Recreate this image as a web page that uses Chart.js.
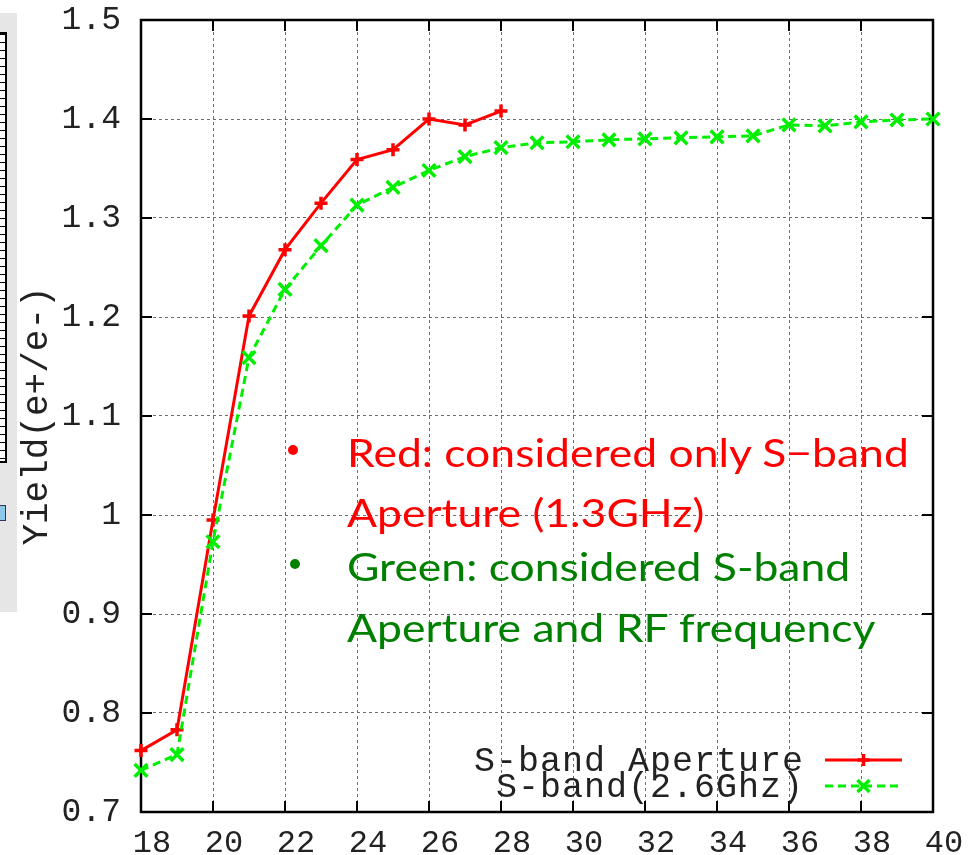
<!DOCTYPE html>
<html>
<head>
<meta charset="utf-8">
<script src="https://cdn.jsdelivr.net/npm/chart.js@4/dist/chart.umd.min.js"></script>
<style>
  html, body { margin: 0; padding: 0; background: #fff; }
  #wrap { position: relative; width: 980px; height: 855px; overflow: hidden; }
  #side { position: absolute; left: 0; top: 13px; width: 17px; height: 599px; background: #e6e6e6; }
  #sidePanel { position: absolute; left: 0; top: 32px; width: 5px; height: 427px;
    background: repeating-linear-gradient(to bottom, #000 0px, #000 1px, #fff 1px, #fff 8px);
    border-right: 2px solid #000; border-top: 2px solid #000; border-bottom: 2px solid #000; }
  #sideBox { position: absolute; left: 0; top: 505px; width: 5px; height: 14px; background: #8cc8e8; border: 1px solid #335; border-left: none; }
  .note { position: absolute; left: 347px; font-family: Lato, "Open Sans", sans-serif; font-size: 39px; line-height: 58px; white-space: nowrap; transform: scaleX(1.14); transform-origin: 0 50%; }
  .red { color: #ff0000; }
  .green { color: #008000; }
  .dot { position: absolute; width: 10px; height: 10px; border-radius: 50%; }
</style>
</head>
<body>
<div id="wrap">
  <div id="side"></div>
  <div id="sidePanel"></div>
  <div id="sideBox"></div>
  <canvas id="c" width="980" height="855"></canvas>
  <div class="dot" style="left:288px; top:445px; background:#ff0000;"></div>
  <div class="note red" style="top:423px;">Red: considered only S−band</div>
  <div class="note red" style="top:483px;">Aperture (1.3GHz)</div>
  <div class="dot" style="left:290px; top:559px; background:#008000;"></div>
  <div class="note green" style="top:537px;">Green: considered S-band</div>
  <div class="note green" style="top:598px;">Aperture and RF frequency</div>
</div>
<script>
// ---- data ----
const redLabel = 'S-band Aperture';
const greenLabel = 'S-band(2.6Ghz)';
const redX = [18, 19, 20, 21, 22, 23, 24, 25, 26, 27, 28];
const redY = [0.762, 0.783, 0.995, 1.201, 1.268, 1.315, 1.359, 1.369, 1.400, 1.394, 1.408];
const greenX = [18, 19, 20, 21, 22, 23, 24, 25, 26, 27, 28, 29, 30, 31, 32, 33, 34, 35, 36, 37, 38, 39, 40];
const greenY = [0.742, 0.758, 0.973, 1.159, 1.228, 1.272, 1.313, 1.331, 1.348, 1.362, 1.371, 1.376, 1.377, 1.379, 1.380, 1.381, 1.382, 1.383, 1.394, 1.393, 1.397, 1.399, 1.400];
const xTickValues = [18, 20, 22, 24, 26, 28, 30, 32, 34, 36, 38, 40];
const xTickLabels = ['18', '20', '22', '24', '26', '28', '30', '32', '34', '36', '38', '40'];
const yTickLabels = ['0.7', '0.8', '0.9', '1', '1.1', '1.2', '1.3', '1.4', '1.5'];
const yTitle = 'Yield(e+/e-)';

const RED = '#ff0000';
const GREEN = '#00ee00';
const MONO = '"Liberation Mono", "DejaVu Sans Mono", monospace';

const redData = redX.map((x, i) => ({ x: x, y: redY[i] }));
const greenData = greenX.map((x, i) => ({ x: x, y: greenY[i] }));

// frame + inward tick marks (gnuplot style box)
const framePlugin = {
  id: 'frame',
  beforeDatasetsDraw(chart) {
    const { ctx, chartArea: a, scales: { x, y } } = chart;
    ctx.save();
    ctx.strokeStyle = '#000';
    ctx.lineWidth = 2.5;
    ctx.setLineDash([]);
    ctx.strokeRect(a.left, a.top, a.right - a.left, a.bottom - a.top);
    const L = 11;
    ctx.lineWidth = 2;
    ctx.beginPath();
    x.ticks.forEach(t => {
      const px = x.getPixelForValue(t.value);
      ctx.moveTo(px, a.bottom); ctx.lineTo(px, a.bottom - L);
      ctx.moveTo(px, a.top); ctx.lineTo(px, a.top + L);
    });
    y.ticks.forEach(t => {
      const py = y.getPixelForValue(t.value);
      ctx.moveTo(a.left, py); ctx.lineTo(a.left + L, py);
      ctx.moveTo(a.right, py); ctx.lineTo(a.right - L, py);
    });
    ctx.stroke();
    ctx.restore();
  }
};

// gnuplot-like key, bottom right inside the plot
const keyPlugin = {
  id: 'key',
  afterDraw(chart) {
    const { ctx } = chart;
    const rows = chart.data.datasets.map(ds => ds);
    const textRight = 804;
    const x1 = 825, x2 = 902, xm = (x1 + x2) / 2;
    const ys = [760, 786];
    ctx.save();
    ctx.font = '35px ' + MONO;
    ctx.textAlign = 'right';
    ctx.textBaseline = 'middle';
    ctx.fillStyle = '#222';
    try { ctx.letterSpacing = '1px'; } catch (e) {}
    rows.forEach((ds, i) => {
      const yy = ys[i];
      ctx.fillStyle = '#222';
      ctx.fillText(ds.label, textRight, yy + 2);
      ctx.strokeStyle = ds.borderColor;
      ctx.lineWidth = 3;
      ctx.setLineDash(ds.borderDash || []);
      ctx.beginPath(); ctx.moveTo(x1, yy); ctx.lineTo(x2, yy); ctx.stroke();
      ctx.setLineDash([]);
      ctx.lineWidth = 3.5;
      ctx.beginPath();
      if (ds.pointStyle === 'cross') {
        ctx.moveTo(xm - 6, yy); ctx.lineTo(xm + 6, yy);
        ctx.moveTo(xm, yy - 6); ctx.lineTo(xm, yy + 6);
      } else {
        ctx.moveTo(xm - 6, yy - 6); ctx.lineTo(xm + 6, yy + 6);
        ctx.moveTo(xm - 6, yy + 6); ctx.lineTo(xm + 6, yy - 6);
      }
      ctx.stroke();
    });
    ctx.restore();
  }
};

new Chart(document.getElementById('c'), {
  type: 'line',
  data: {
    datasets: [
      {
        label: redLabel,
        data: redData,
        borderColor: RED,
        backgroundColor: RED,
        borderWidth: 3,
        pointStyle: 'cross',
        pointRadius: 6.5,
        pointBorderWidth: 3.5,
        pointBorderColor: RED,
        tension: 0,
        clip: false,
        order: 1
      },
      {
        label: greenLabel,
        data: greenData,
        borderColor: GREEN,
        backgroundColor: GREEN,
        borderWidth: 3,
        borderDash: [8, 5],
        pointStyle: 'crossRot',
        pointRadius: 9,
        pointBorderWidth: 3.5,
        pointBorderColor: GREEN,
        tension: 0,
        clip: false,
        order: 0
      }
    ]
  },
  options: {
    responsive: false,
    animation: false,
    layout: { padding: { left: 16, top: 20, right: 47, bottom: 0 } },
    plugins: {
      legend: { display: false },
      tooltip: { enabled: false }
    },
    scales: {
      x: {
        type: 'linear',
        min: 18,
        max: 40,
        afterBuildTicks(scale) {
          scale.ticks = xTickValues.map(v => ({ value: v }));
        },
        afterFit(scale) {
          scale.height = 43;
          scale.paddingLeft = 0; scale.paddingRight = 0;
          scale.paddingTop = 0; scale.paddingBottom = 0;
        },
        grid: { color: '#6e6e6e', lineWidth: 1, drawTicks: false },
        border: { display: false, dash: [3, 3] },
        ticks: {
          padding: 16,
          labelOffset: 11,
          maxRotation: 0,
          autoSkip: false,
          color: '#222',
          font: { family: MONO, size: 32, lineHeight: 1 },
          callback: (v) => xTickLabels[xTickValues.indexOf(v)]
        }
      },
      y: {
        type: 'linear',
        min: 0.7,
        max: 1.5,
        afterFit(scale) {
          scale.width = 141 - 16;
          scale.paddingTop = 0; scale.paddingBottom = 0;
          scale.paddingLeft = 0; scale.paddingRight = 0;
        },
        grid: { color: '#6e6e6e', lineWidth: 1, drawTicks: false },
        border: { display: false, dash: [3, 3] },
        ticks: {
          stepSize: 0.1,
          padding: 20,
          color: '#222',
          font: { family: MONO, size: 33, lineHeight: 1 },
          callback: (v, i) => yTickLabels[i]
        },
        title: {
          display: true,
          text: yTitle,
          color: '#222',
          padding: { top: 0, bottom: 0 },
          font: { family: MONO, size: 36, lineHeight: 1.2 }
        }
      }
    }
  },
  plugins: [framePlugin, keyPlugin]
});
</script>
</body>
</html>
